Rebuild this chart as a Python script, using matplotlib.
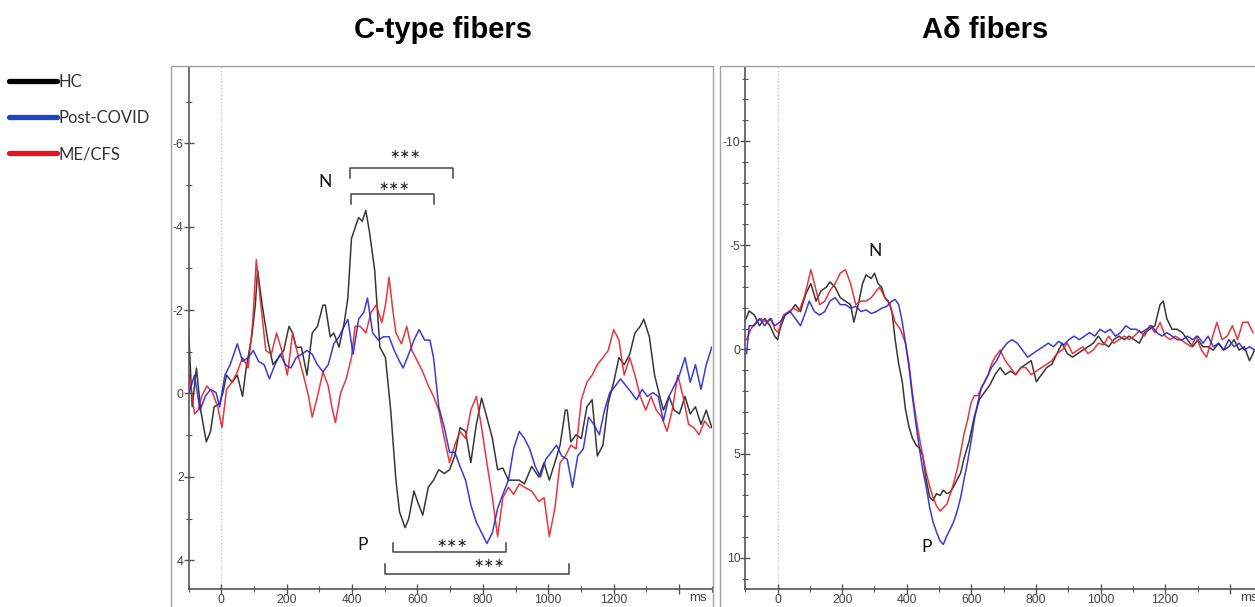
import matplotlib.pyplot as plt
from matplotlib.patches import Rectangle
from matplotlib.lines import Line2D
from matplotlib.ticker import FixedLocator, MultipleLocator, FuncFormatter

plt.rcParams['axes.unicode_minus'] = False
plt.rcParams['font.family'] = ['Liberation Sans', 'DejaVu Sans']

# ---------- C-type fibers: (time ms, amplitude uV), y axis is inverted
c_hc = [(-100, -1.53), (-89, 0.32), (-76, -0.61), (-63, 0.40), (-46, 1.16), (-33, 0.91), (-22, 0.32),
        (-5, 0.24), (5, -0.02), (16, -0.44), (33, -0.27), (49, -0.44), (65, 0.07), (76, -0.61),
        (93, -1.36), (104, -2.12), (111, -2.96), (125, -2.12), (142, -1.28), (158, -0.69), (175, -0.86),
        (191, -1.03), (207, -1.61), (218, -1.45), (229, -1.11), (245, -1.11), (262, -0.44), (278, -1.45),
        (294, -1.61), (311, -2.12), (318, -2.12), (333, -1.36), (344, -1.45), (360, -1.11), (376, -1.70),
        (387, -2.29), (398, -3.71), (409, -3.97), (420, -4.22), (431, -4.13), (442, -4.39), (453, -3.88),
        (469, -2.96), (485, -1.11), (502, -0.86), (518, 0.40), (534, 2.08), (545, 2.84), (562, 3.22),
        (573, 3.01), (589, 2.34), (600, 2.59), (616, 2.92), (633, 2.25), (649, 2.08), (665, 1.83),
        (682, 1.92), (698, 1.83), (714, 1.50), (730, 0.82), (747, 0.91), (763, 1.66), (780, 0.74),
        (796, 0.11), (812, 0.57), (829, 1.08), (845, 1.83), (861, 1.79), (878, 2.08), (894, 2.08),
        (911, 2.08), (927, 2.17), (949, 1.75), (971, 2.00), (987, 1.66), (1003, 2.08), (1020, 1.66),
        (1036, 1.24), (1052, 0.40), (1058, 0.40), (1069, 1.16), (1085, 0.99), (1101, 1.08), (1118, 0.32),
        (1134, 0.15), (1150, 1.50), (1167, 1.24), (1183, 0.24), (1200, -0.27), (1216, -0.86), (1232, -0.69),
        (1249, -0.94), (1265, -1.45), (1281, -1.61), (1292, -1.78), (1309, -1.36), (1325, -0.44),
        (1341, 0.07), (1352, 0.40), (1369, 0.07), (1385, 0.40), (1401, 0.49), (1418, 0.07), (1434, 0.49),
        (1450, 0.32), (1467, 0.74), (1483, 0.40), (1500, 0.82)]

c_mecfs = [(-98, -0.44), (-82, 0.49), (-71, 0.40), (-60, 0.07), (-44, -0.18), (-27, -0.02), (-11, 0.32),
           (2, 0.82), (16, -0.10), (33, -0.27), (49, -0.52), (65, -0.86), (82, -0.61), (96, -1.70),
           (107, -3.21), (120, -2.20), (136, -1.03), (153, -0.94), (169, -1.45), (185, -1.03), (202, -0.44),
           (218, -1.45), (234, -0.94), (251, -0.44), (267, 0.07), (278, 0.57), (294, 0.07), (311, -0.52),
           (327, -0.18), (338, 0.32), (349, 0.70), (365, -0.02), (382, -0.35), (398, -0.86), (409, -1.61),
           (425, -1.61), (442, -1.45), (458, -1.95), (474, -2.12), (491, -1.70), (502, -2.12), (513, -2.79),
           (524, -2.03), (534, -1.45), (551, -1.19), (567, -1.61), (583, -1.03), (600, -0.77), (616, -0.52),
           (633, -0.18), (649, 0.07), (665, 0.40), (682, 1.08), (698, 1.66), (714, 1.24), (730, 0.91),
           (747, 1.08), (763, 0.40), (780, 0.07), (796, 0.82), (812, 1.66), (829, 2.50), (845, 3.43),
           (861, 2.50), (878, 2.25), (894, 2.42), (911, 2.17), (927, 2.25), (949, 2.34), (971, 2.59),
           (987, 2.50), (1003, 3.43), (1020, 2.76), (1036, 1.66), (1052, 1.50), (1069, 1.24), (1085, 1.33),
           (1101, 0.15), (1118, -0.27), (1134, -0.44), (1150, -0.69), (1167, -0.86), (1183, -1.03),
           (1200, -1.53), (1216, -1.28), (1232, -0.44), (1249, -0.86), (1265, -0.44), (1281, 0.07),
           (1298, 0.40), (1314, 0.07), (1330, 0.40), (1347, 0.57), (1363, 0.91), (1379, 0.40), (1396, -0.44),
           (1412, 0.07), (1429, 0.74), (1445, 0.82), (1461, 0.99), (1478, 0.66), (1494, 0.82)]

c_postcovid = [(-98, -0.02), (-82, -0.44), (-65, 0.40), (-49, 0.07), (-33, -0.10), (-16, -0.02), (-5, 0.32),
               (11, -0.44), (27, -0.69), (38, -0.94), (49, -1.19), (65, -0.77), (82, -0.86), (98, -1.03),
               (114, -0.77), (131, -0.69), (147, -0.35), (164, -0.69), (180, -0.94), (196, -0.69),
               (213, -0.61), (229, -0.86), (245, -0.94), (262, -1.03), (278, -0.94), (294, -0.69),
               (311, -0.52), (327, -0.69), (344, -1.19), (360, -1.36), (376, -1.61), (387, -1.78),
               (403, -0.94), (420, -1.78), (436, -1.95), (447, -2.29), (463, -1.45), (480, -1.28),
               (496, -1.36), (513, -1.36), (529, -1.03), (545, -0.77), (556, -0.61), (573, -0.94),
               (589, -1.28), (605, -1.53), (622, -1.28), (638, -1.28), (649, -0.86), (665, 0.32), (682, 0.82),
               (698, 1.41), (714, 1.41), (730, 1.75), (747, 2.08), (763, 2.67), (780, 3.09), (796, 3.34),
               (812, 3.60), (829, 3.34), (845, 2.76), (861, 2.42), (878, 2.08), (894, 1.33), (911, 0.91),
               (927, 1.08), (943, 1.33), (960, 1.75), (976, 2.00), (992, 1.58), (1009, 1.41), (1025, 1.24),
               (1041, 1.50), (1058, 1.58), (1074, 2.25), (1090, 1.50), (1107, 1.33), (1123, 0.57),
               (1139, 0.74), (1156, 0.99), (1172, 0.40), (1188, -0.02), (1205, -0.18), (1221, -0.35),
               (1238, -0.18), (1254, -0.02), (1270, 0.15), (1287, -0.10), (1303, 0.07), (1320, -0.02),
               (1336, 0.07), (1352, 0.66), (1369, 0.07), (1385, -0.18), (1401, -0.44), (1418, -0.86),
               (1434, -0.27), (1450, -0.69), (1467, -0.10), (1483, -0.69), (1500, -1.11)]

# ---------- A-delta fibers
a_hc = [(-100, -1.40), (-88, -1.85), (-72, -1.65), (-56, -1.14), (-40, -1.48), (-24, -1.14), (-9, -0.64),
        (0, -0.47), (7, -0.97), (23, -1.65), (39, -1.82), (55, -2.15), (71, -1.82), (87, -2.66),
        (103, -3.16), (119, -2.32), (135, -2.82), (151, -2.99), (162, -3.24), (178, -2.99), (194, -2.49),
        (210, -2.32), (226, -2.15), (236, -1.31), (252, -2.32), (263, -3.16), (274, -3.58), (290, -3.41),
        (300, -3.66), (311, -3.16), (322, -2.99), (332, -2.49), (343, -2.32), (354, -1.82), (364, -0.47),
        (375, 0.71), (386, 1.55), (396, 2.89), (407, 3.73), (417, 4.24), (428, 4.57), (439, 4.74),
        (449, 5.08), (460, 6.25), (471, 7.09), (481, 7.26), (492, 6.92), (503, 7.01), (513, 6.76),
        (524, 6.92), (535, 6.84), (545, 6.59), (556, 6.25), (567, 5.92), (577, 5.24), (593, 4.40),
        (609, 3.23), (625, 2.39), (641, 2.05), (657, 1.71), (673, 1.21), (689, 0.87), (705, 1.21),
        (721, 1.04), (737, 1.21), (753, 0.87), (769, 0.71), (785, 0.54), (801, 1.55), (817, 1.21),
        (833, 0.87), (849, 0.71), (865, 0.20), (881, -0.30), (897, 0.20), (913, 0.37), (929, 0.20),
        (945, 0.03), (961, -0.13), (977, -0.30), (993, -0.64), (1009, -0.30), (1025, -0.13), (1041, -0.47),
        (1057, -0.64), (1073, -0.47), (1088, -0.64), (1104, -0.47), (1120, -0.30), (1136, -0.81),
        (1152, -0.97), (1168, -1.14), (1184, -2.15), (1194, -2.32), (1205, -1.48), (1221, -0.97),
        (1237, -0.97), (1253, -0.81), (1269, -0.47), (1285, -0.13), (1301, -0.47), (1317, -0.13),
        (1333, -0.13), (1349, 0.03), (1365, -0.30), (1381, 0.03), (1397, -0.13), (1413, -0.47),
        (1429, 0.03), (1445, -0.13), (1461, 0.54), (1477, 0.03)]

a_mecfs = [(-96, -0.47), (-83, -0.97), (-67, -1.31), (-51, -1.48), (-35, -1.31), (-19, -1.48), (-9, -0.97),
           (2, -0.81), (18, -1.65), (34, -1.82), (50, -1.98), (66, -1.82), (82, -2.49), (93, -3.16),
           (103, -3.83), (114, -3.16), (130, -2.15), (146, -2.32), (162, -2.82), (178, -3.16), (194, -3.66),
           (210, -3.83), (226, -3.16), (242, -2.15), (258, -2.32), (274, -2.32), (290, -2.49), (306, -2.82),
           (316, -2.99), (332, -2.49), (348, -2.15), (364, -1.31), (380, -0.97), (396, -0.30), (407, 0.71),
           (417, 2.05), (428, 3.23), (439, 4.24), (449, 5.08), (460, 5.92), (471, 6.59), (481, 7.09),
           (492, 7.51), (503, 7.76), (513, 7.60), (524, 7.43), (535, 6.92), (545, 6.42), (556, 5.75),
           (567, 4.91), (577, 4.07), (588, 3.39), (599, 2.55), (609, 2.22), (620, 2.22), (630, 1.88),
           (641, 1.55), (652, 1.21), (662, 0.71), (673, 0.37), (689, 0.03), (705, 0.54), (721, 0.87),
           (737, 1.21), (753, 0.87), (769, 0.87), (785, 1.21), (801, 1.04), (817, 0.87), (833, 0.71),
           (849, 0.54), (865, 0.20), (881, 0.03), (897, -0.30), (913, 0.20), (929, 0.03), (945, -0.13),
           (961, 0.20), (977, 0.03), (993, -0.30), (1009, -0.22), (1025, -0.64), (1041, -0.30),
           (1057, -0.47), (1073, -0.64), (1088, -0.47), (1104, -0.64), (1120, -0.89), (1136, -0.64),
           (1152, -1.14), (1168, -0.81), (1184, -1.30), (1200, -0.64), (1216, -0.47), (1232, -0.64),
           (1248, -0.47), (1264, -0.30), (1280, -0.13), (1296, -0.64), (1312, 0.03), (1328, 0.37),
           (1344, -0.47), (1360, -1.30), (1376, -0.47), (1392, -0.64), (1408, -1.14), (1424, -0.47),
           (1440, -1.30), (1456, -1.31), (1472, -0.81)]

a_postcovid = [(-96, 0.20), (-88, -1.14), (-72, -1.14), (-56, -1.48), (-40, -1.14), (-24, -1.48), (-9, -1.14),
               (7, -1.31), (23, -1.65), (39, -1.82), (55, -1.48), (71, -1.14), (87, -1.82), (98, -2.32),
               (114, -1.82), (130, -1.65), (146, -1.82), (162, -2.32), (178, -2.49), (194, -2.15),
               (210, -2.15), (226, -1.98), (242, -2.07), (258, -1.82), (274, -1.90), (290, -1.73),
               (306, -1.82), (322, -1.98), (338, -2.07), (354, -2.32), (364, -2.40), (375, -2.15),
               (386, -1.31), (396, -0.30), (407, 0.87), (417, 2.22), (428, 3.56), (439, 4.74), (449, 5.75),
               (460, 6.59), (471, 7.60), (481, 8.27), (492, 8.77), (503, 9.19), (513, 9.36), (524, 8.94),
               (535, 8.61), (545, 8.27), (556, 7.76), (567, 7.09), (577, 6.25), (588, 5.41), (599, 4.40),
               (609, 3.39), (620, 2.55), (630, 1.88), (641, 1.55), (652, 1.21), (662, 0.87), (678, 0.54),
               (694, 0.03), (710, -0.30), (726, -0.47), (742, -0.30), (758, 0.03), (774, 0.37), (790, 0.20),
               (806, 0.03), (822, -0.13), (838, -0.30), (854, -0.13), (870, -0.39), (886, -0.22),
               (902, -0.47), (918, -0.64), (934, -0.47), (950, -0.64), (966, -0.81), (982, -0.64),
               (998, -0.97), (1014, -0.81), (1030, -0.97), (1046, -0.64), (1062, -0.81), (1078, -1.14),
               (1094, -0.97), (1110, -0.97), (1126, -0.81), (1142, -0.97), (1158, -1.14), (1174, -0.81),
               (1190, -0.64), (1205, -0.81), (1221, -0.64), (1237, -0.47), (1253, -0.47), (1269, -0.64),
               (1285, -0.47), (1301, -0.64), (1317, -0.30), (1333, -0.64), (1349, -0.13), (1365, -0.30),
               (1381, 0.03), (1397, -0.47), (1413, -0.13), (1429, -0.30), (1445, 0.03), (1461, -0.13),
               (1477, 0.03)]

group_names = ['HC', 'Post-COVID', 'ME/CFS']
group_colors = {'HC': '#262626', 'Post-COVID': '#2a2ad2', 'ME/CFS': '#e5262b'}
legend_colors = ['#000000', '#1f45c8', '#e8141c']

# significance brackets on the C-fiber panel: (x0, x1, bar level, end level), star position
c_brackets = [(393, 709, -5.41, -5.16), (396, 649, -4.79, -4.55),
              (526, 870, 3.81, 3.58), (502, 1063, 4.34, 4.10)]
c_stars = [(562, -5.72), (529, -4.96), (707, 3.60), (820, 4.07)]
c_peaks = [('N', 316, -5.06), ('P', 433, 3.64)]
a_peaks = [('N', 303, -4.71), ('P', 460, 9.48)]

W, H = 1255, 607
fig = plt.figure(figsize=(W / 100, H / 100), dpi=100)

label_font = ['Lato', 'DejaVu Sans']


def style(ax, ylim, ymajor):
    ax.set_xlim(-100, 1500)
    ax.set_ylim(*ylim)
    ax.set_facecolor('none')
    for s in ['top', 'right']:
        ax.spines[s].set_visible(False)
    for s in ['left', 'bottom']:
        ax.spines[s].set_color('#555555')
        ax.spines[s].set_linewidth(1.2)
    ax.xaxis.set_major_locator(FixedLocator(list(range(0, 1401, 200))))
    ax.xaxis.set_minor_locator(MultipleLocator(100))
    ax.xaxis.set_major_formatter(FuncFormatter(lambda v, p: '' if v > 1300 else f'{v:.0f}'))
    ax.yaxis.set_major_locator(MultipleLocator(ymajor))
    ax.yaxis.set_minor_locator(MultipleLocator(1))
    ax.yaxis.set_major_formatter(FuncFormatter(lambda v, p: f'{v:.0f}'))
    ax.tick_params(which='both', direction='inout', colors='#555555', labelcolor='#444444', labelsize=8.8)
    ax.tick_params(which='major', length=7, width=1)
    ax.tick_params(which='minor', length=4, width=0.8)
    ax.tick_params(axis='y', pad=0)
    ax.tick_params(axis='x', pad=0)
    ax.axvline(0, color='#c4c4c4', ls=(0, (1, 1.5)), lw=1, zorder=0)
    ax.text(0.957, -0.006, 'ms', transform=ax.transAxes, ha='left', va='top',
            fontsize=9.5, color='#444444')


def draw(ax, series):
    for name, data in series:
        t = [p[0] for p in data]
        v = [p[1] for p in data]
        ax.plot(t, v, color=group_colors[name], lw=1.1, alpha=0.92)


# outer frames around each panel
for x0, x1 in [(171, 713), (720, 1300)]:
    fig.add_artist(Rectangle((x0 / W, -0.05), (x1 - x0) / W, 0.05 + 1 - 66 / H,
                             transform=fig.transFigure, fill=False, ec='#a0a0a0', lw=1))

bottom = 1 - 589 / H
height = (589 - 67) / H
ax1 = fig.add_axes([188.6 / W, bottom, (711.8 - 188.6) / W, height])
ax2 = fig.add_axes([745.3 / W, bottom, (1262.1 - 745.3) / W, height])

style(ax1, (4.69, -7.83), 2)
style(ax2, (11.5, -13.56), 5)

draw(ax1, [('HC', c_hc), ('ME/CFS', c_mecfs), ('Post-COVID', c_postcovid)])
draw(ax2, [('HC', a_hc), ('ME/CFS', a_mecfs), ('Post-COVID', a_postcovid)])

for (x0, x1, yb, ye) in c_brackets:
    ax1.plot([x0, x0, x1, x1], [ye, yb, yb, ye], color='#444444', lw=1.1)
for (sx, sy) in c_stars:
    ax1.text(sx, sy, '\u2217\u2217\u2217', ha='center', va='center', fontsize=9, color='#222222',
             family=['DejaVu Sans'])
for ax, peaks in [(ax1, c_peaks), (ax2, a_peaks)]:
    for lab, px, py in peaks:
        ax.text(px, py, lab, ha='center', va='center', fontsize=12.5, color='#111111',
                family=label_font)

fig.text(443 / W, 1 - 30 / H, 'C-type fibers', ha='center', va='center',
         fontsize=21, fontweight='bold')
fig.text(985 / W, 1 - 30 / H, 'A\u03b4 fibers', ha='center', va='center',
         fontsize=21, fontweight='bold')

handles = [Line2D([], [], color=c, lw=3.8, solid_capstyle='round') for c in legend_colors]
leg = fig.legend(handles, group_names, loc='upper left', bbox_to_anchor=(9 / W, 1 - 74 / H),
                 frameon=False, handlelength=2.85, handletextpad=0.1,
                 labelspacing=1.2, borderaxespad=0, borderpad=0,
                 prop={'family': label_font, 'size': 12})
for txt in leg.get_texts():
    txt.set_color('#333333')

fig.savefig('out.png', dpi=100)
